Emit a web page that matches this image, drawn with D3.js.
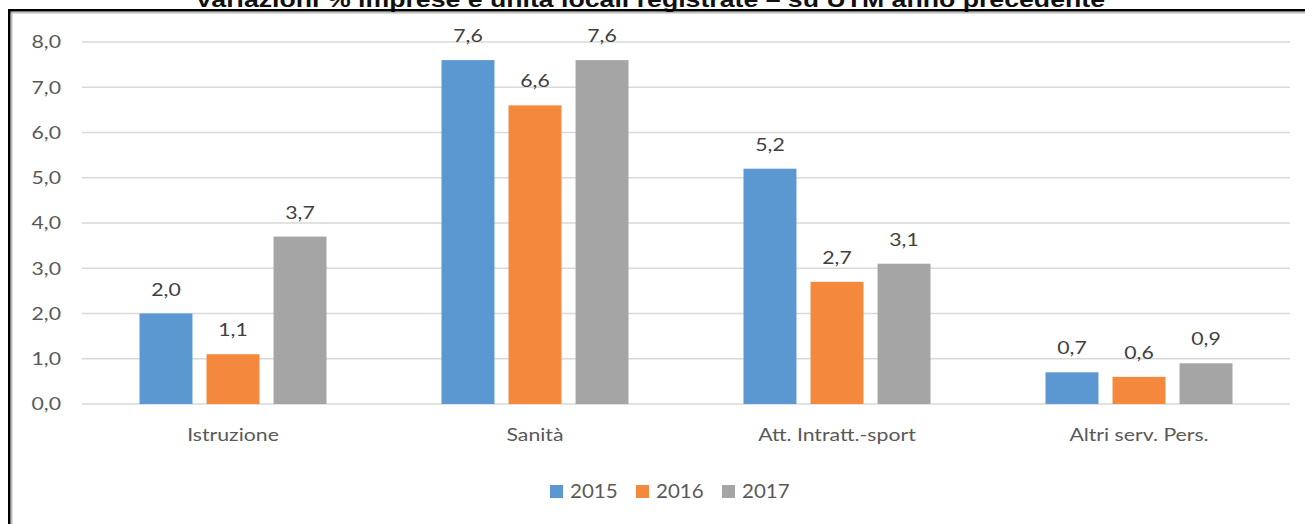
<!DOCTYPE html>
<html>
<head>
<meta charset="utf-8">
<script src="https://cdn.jsdelivr.net/npm/d3@7"></script>
<style>
  body { margin: 0; background: #fff; }
  svg { display: block; }
</style>
</head>
<body>
<script>
var categories = ["Istruzione", "Sanità", "Att. Intratt.-sport", "Altri serv. Pers."];
var years = ["2015", "2016", "2017"];
var v2015 = [2.0, 7.6, 5.2, 0.7];
var v2016 = [1.1, 6.6, 2.7, 0.6];
var v2017 = [3.7, 7.6, 3.1, 0.9];
var yTicks = [0, 1, 2, 3, 4, 5, 6, 7, 8];
var title = "Variazioni % imprese e unità locali registrate – su UTM anno precedente";

var colors = ["#5b97d1", "#f4883d", "#a5a5a5"];
var series = [v2015, v2016, v2017];

var W = 1305, H = 524;
var FONT = "Lato, sans-serif";
var STRETCH = "scale(1.18,1)"; // original text is drawn wide
var svg = d3.select("body").append("svg").attr("width", W).attr("height", H);

// title, cut at the top like the original crop
svg.append("text")
  .attr("x", 650).attr("y", 7)
  .attr("text-anchor", "middle")
  .attr("textLength", 910).attr("lengthAdjust", "spacingAndGlyphs")
  .style("font-family", "Liberation Sans, Arial, sans-serif")
  .style("font-weight", "bold")
  .style("font-size", "22px")
  .attr("fill", "#111")
  .text(title);

// frame lines
svg.append("rect").attr("x", 8).attr("y", 12).attr("width", W).attr("height", 1.5).attr("fill", "#bbb");
svg.append("rect").attr("x", 11).attr("y", 10).attr("width", 1.5).attr("height", H).attr("fill", "#bbb");
svg.append("rect").attr("x", 8).attr("y", 9).attr("width", W).attr("height", 2.5).attr("fill", "#000");
svg.append("rect").attr("x", 8).attr("y", 9).attr("width", 2.5).attr("height", H).attr("fill", "#000");

var x0 = d3.scaleBand().domain(categories).range([82, 1290]).padding(0);
var x1 = d3.scaleBand().domain(years).range([0, x0.bandwidth()])
  .paddingInner(0.21).paddingOuter(0.858);
var y = d3.scaleLinear().domain([0, 8]).range([404, 42]);

var fmt = function (d) { return d3.format(".1f")(d).replace(".", ","); };

// gridlines
svg.append("g").selectAll("line").data(yTicks).join("line")
  .attr("x1", 82).attr("x2", 1290)
  .attr("y1", d => y(d)).attr("y2", d => y(d))
  .attr("stroke", "#d9d9d9").attr("stroke-width", 1.5);

// y axis labels
var yAxis = d3.axisLeft(y).tickValues(yTicks).tickFormat(fmt).tickSize(0).tickPadding(0);
var ga = svg.append("g").attr("transform", "translate(61,0)").call(yAxis);
ga.select(".domain").remove();
ga.selectAll("text")
  .attr("transform", STRETCH)
  .style("font-family", FONT).style("font-size", "18px").attr("fill", "#595959");

// bars
var groups = svg.append("g").selectAll("g").data(categories).join("g")
  .attr("transform", d => "translate(" + x0(d) + ",0)");

groups.each(function (cat, i) {
  var g = d3.select(this);
  years.forEach(function (yr, j) {
    var v = series[j][i];
    g.append("rect")
      .attr("x", x1(yr)).attr("width", x1.bandwidth())
      .attr("y", y(v)).attr("height", y(0) - y(v))
      .attr("fill", colors[j]);
    g.append("g")
      .attr("transform", "translate(" + (x1(yr) + x1.bandwidth() / 2) + "," + (y(v) - 18) + ")")
      .append("text")
      .attr("transform", STRETCH)
      .attr("text-anchor", "middle")
      .style("font-family", FONT).style("font-size", "18px")
      .attr("fill", "#404040")
      .text(fmt(v));
  });
});

// category labels
var xAxis = d3.axisBottom(x0).tickSize(0).tickPadding(0);
var gx = svg.append("g").attr("transform", "translate(0,428)").call(xAxis);
gx.select(".domain").remove();
gx.selectAll("text")
  .attr("transform", STRETCH)
  .style("font-family", FONT).style("font-size", "18px").attr("fill", "#595959");

// legend
var legX = [550, 636, 722];
var leg = svg.append("g").selectAll("g").data(years).join("g")
  .attr("transform", (d, i) => "translate(" + legX[i] + ",485)");
leg.append("rect").attr("width", 13).attr("height", 13).attr("fill", (d, i) => colors[i]);
leg.append("g").attr("transform", "translate(20,13)").append("text")
  .attr("transform", "scale(1.08,1)")
  .style("font-family", FONT).style("font-size", "19px")
  .attr("fill", "#595959").text(d => d);
</script>
</body>
</html>
